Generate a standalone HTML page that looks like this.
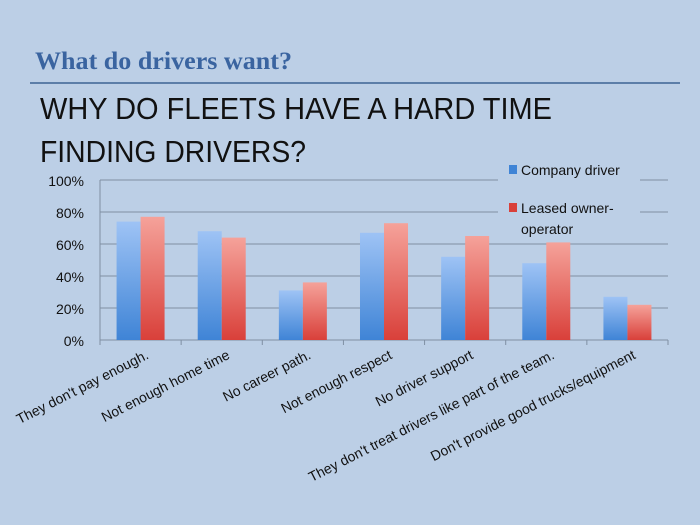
<!DOCTYPE html>
<html><head><meta charset="utf-8"><style>
html,body{margin:0;padding:0;background:#bccfe6;}
svg{display:block;}
</style></head><body>
<svg width="700" height="525" viewBox="0 0 700 525" xmlns="http://www.w3.org/2000/svg">
<defs>
<linearGradient id="gb" x1="0" y1="0" x2="0" y2="1"><stop offset="0" stop-color="#9ec3f5"/><stop offset="1" stop-color="#3f84d6"/></linearGradient>
<linearGradient id="gr" x1="0" y1="0" x2="0" y2="1"><stop offset="0" stop-color="#f5a29a"/><stop offset="1" stop-color="#d9403a"/></linearGradient>
</defs>
<rect width="700" height="525" fill="#bccfe6"/>
<text x="35" y="69" font-family="Liberation Serif, serif" font-weight="bold" font-size="25" fill="#3a64a0" textLength="257" lengthAdjust="spacingAndGlyphs">What do drivers want?</text>
<line x1="30" y1="83" x2="680" y2="83" stroke="#5c7ea8" stroke-width="2"/>
<text x="40" y="119" font-family="Liberation Sans, sans-serif" font-size="31" fill="#111" textLength="512" lengthAdjust="spacingAndGlyphs">WHY DO FLEETS HAVE A HARD TIME</text>
<text x="40" y="162" font-family="Liberation Sans, sans-serif" font-size="31" fill="#111" textLength="266" lengthAdjust="spacingAndGlyphs">FINDING DRIVERS?</text>
<g id="chart"></g>
</svg>
<script>
const categories=["They don't pay enough.","Not enough home time","No career path.","Not enough respect","No driver support","They don't treat drivers like part of the team.","Don't provide good trucks/equipment"];
const companyDriver=[74,68,31,67,52,48,27];
const leasedOwner=[77,64,36,73,65,61,22];
const tickLabels=["0%","20%","40%","60%","80%","100%"];
const tickValues=[0,20,40,60,80,100];
const NS="http://www.w3.org/2000/svg";
const g=document.getElementById('chart');
const X0=100,X1=668,Y0=340,Y1=180;
const y=v=>Y0-(v/100)*(Y0-Y1);
const cw=(X1-X0)/categories.length;
const x=i=>X0+cw*i;
function mk(t,a){const e=document.createElementNS(NS,t);for(const k in a)e.setAttribute(k,a[k]);g.appendChild(e);return e;}
tickValues.forEach((v,i)=>{
 const l=mk('line',{x1:X0,x2:X1,y1:y(v),y2:y(v),stroke:'#7f8fa3','stroke-width':1});
 
 
 const t=mk('text',{x:X0-16,y:y(v)+6,'text-anchor':'end','font-family':'Liberation Sans, sans-serif','font-size':14,fill:'#111'});
 t.textContent=tickLabels[i];
 
 
});
const ax=mk('line',{x1:X0,x2:X0,y1:Y1,y2:Y0,stroke:'#7f8fa3'});


for(let i=0;i<=categories.length;i++){
 const tk=mk('line',{x1:x(i),x2:x(i),y1:Y0,y2:Y0+5,stroke:'#7f8fa3'});
 
 
}
const bw=24;
categories.forEach((c,i)=>{
 const cx=x(i)+cw/2;
 const b=mk('rect',{x:cx-bw,y:y(companyDriver[i]),width:bw,height:Y0-y(companyDriver[i]),fill:'url(#gb)'});
 
 
 const r=mk('rect',{x:cx,y:y(leasedOwner[i]),width:bw,height:Y0-y(leasedOwner[i]),fill:'url(#gr)'});
 
 
 const lx=cx+9, ly=Y0+18;
 const t=mk('text',{x:lx,y:ly,'text-anchor':'end','font-family':'Liberation Sans, sans-serif','font-size':14,fill:'#111',transform:`rotate(-27 ${lx} ${ly})`});
 t.textContent=c;
 
 
});
const lb=mk('rect',{x:498,y:155,width:142,height:85,fill:'#bccfe6'});


[['Company driver',175,'#3f84d6'],['Leased owner-',213,'#d9403a']].forEach((d)=>{
 const s=mk('rect',{x:509,y:d[1]-10,width:8,height:9,fill:d[2]});
 
 
 const t=mk('text',{x:521,y:d[1],'font-family':'Liberation Sans, sans-serif','font-size':14,fill:'#111'});
 t.textContent=d[0];
 
 
});
const t2=mk('text',{x:521,y:234,'font-family':'Liberation Sans, sans-serif','font-size':14,fill:'#111'});
t2.textContent='operator';


</script>
</body></html>
